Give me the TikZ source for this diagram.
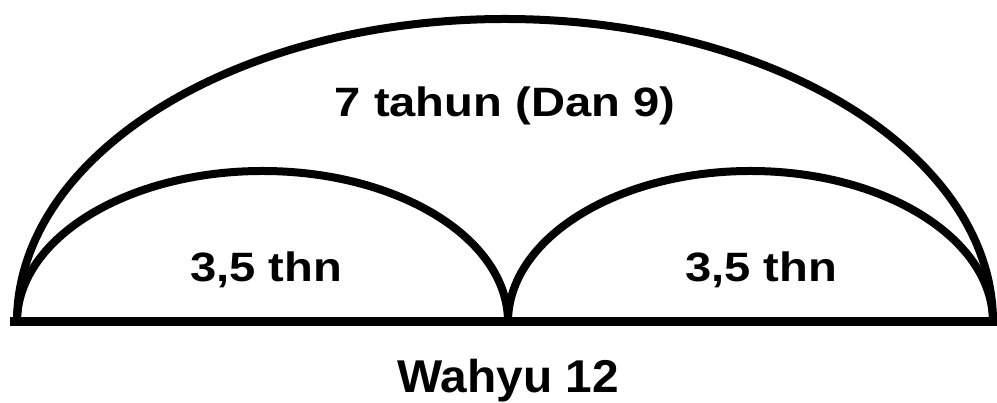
\documentclass[tikz,border=0pt]{standalone}
\usepackage{fontspec}
\setmainfont{Liberation Sans}
\begin{document}
\begin{tikzpicture}[x=1pt,y=1pt,
  arcline/.style={line width=8pt, line cap=butt},
  baseline/.style={line width=9pt},
  lbl/.style={font=\bfseries\fontsize{41}{48}\selectfont, inner sep=0pt, anchor=base, xscale=1.15},
  lblbig/.style={font=\bfseries\fontsize{46}{54}\selectfont, inner sep=0pt, anchor=base, xscale=1.04}]
\useasboundingbox (0,0) rectangle (997,403);
\coordinate (L) at (17,81);
\coordinate (M) at (508,81);
\coordinate (R) at (993,81);
\coordinate (B0) at (10,81);
\coordinate (B1) at (997,81);
\draw[arcline] (L) arc[start angle=180, end angle=0, x radius=488pt, y radius=303pt];
\draw[arcline] (L) arc[start angle=180, end angle=0, x radius=245.5pt, y radius=151pt];
\draw[arcline] (M) arc[start angle=180, end angle=0, x radius=242.5pt, y radius=151pt];
\draw[baseline] (B0) -- (B1);
\node[lbl] (top) at (505,286) {7 tahun (Dan 9)};
\node[lbl] (left) at (266,121) {3,5 thn};
\node[lbl] (right) at (761,121) {3,5 thn};
\node[lblbig] (bottom) at (508,10) {Wahyu 12};
\end{tikzpicture}
\end{document}
